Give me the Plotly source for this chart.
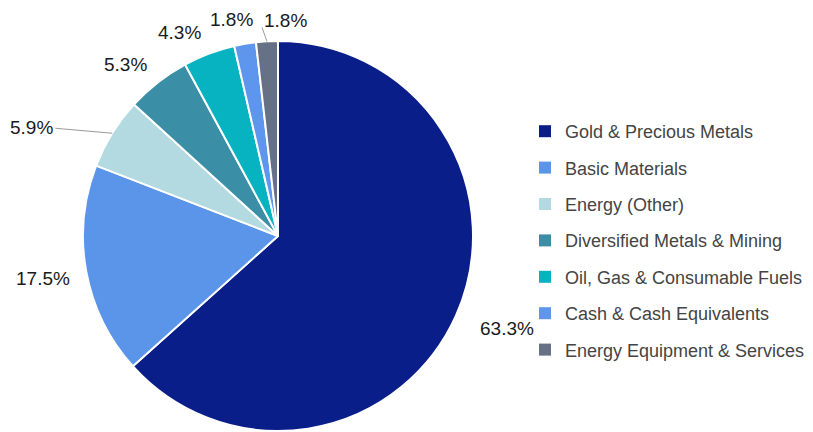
import math
import plotly.graph_objects as go

categories = ["Gold & Precious Metals", "Basic Materials", "Energy (Other)",
              "Diversified Metals & Mining", "Oil, Gas & Consumable Fuels",
              "Cash & Cash Equivalents", "Energy Equipment & Services"]
values = [63.3, 17.5, 5.9, 5.3, 4.3, 1.8, 1.8]
colors = ["#0A1E8A", "#5B95EA", "#B3D9E1", "#3A8FA6", "#07B3C1", "#5D96EC", "#667186"]

OFF = 8  # page body margin offset (screen px = figure px + OFF)
W, H = 813, 432
CX, CY, R = 278 - OFF, 236 - OFF, 195   # pie centre in figure px
ML, MR, MT = 0, 0, CY - R
MB = H - MT - 2 * R
PW, PH = W - ML - MR, H - MT - MB

# label offsets (px) from slice edge point to label centre; leader line offsets
label_offsets = [(51, 13), (-43, 7), (-81, -6), (-32, -18), (-30, -21), (-14, -24), (19, -21)]
leader_offsets = [None, None, (-57, -5), None, None, None, (-5, -14)]


def px2paper(px, py):
    return (px - ML) / PW, (H - MB - py) / PH


fig = go.Figure()
fig.add_trace(go.Pie(
    labels=categories, values=values, sort=False, direction="clockwise", rotation=0,
    marker=dict(colors=colors, line=dict(color="white", width=2)),
    textinfo="none", hoverinfo="label+percent", showlegend=False,
    domain=dict(x=[(CX - R) / W, (CX + R) / W], y=[0, 1]),
))

for cat, col in zip(categories, colors):
    fig.add_trace(go.Scatter(x=[None], y=[None], mode="markers", name=cat,
                             legendgroup=cat,
                             marker=dict(symbol="square", size=7, color=col)))

total = sum(values)
cum = 0.0
annotations, shapes = [], []
for i, v in enumerate(values):
    mid = (cum + v / 2) / total * 2 * math.pi
    cum += v
    tx, ty = CX + R * math.sin(mid), CY - R * math.cos(mid)
    dx, dy = label_offsets[i]
    lx, ly = px2paper(tx + dx, ty + dy)
    annotations.append(dict(x=lx, y=ly, xref="paper", yref="paper", showarrow=False,
                            text=f"{v:.1f}%", font=dict(size=19, color="#1a1a1a"),
                            xanchor="center", yanchor="middle"))
    if leader_offsets[i] is not None:
        ex, ey = leader_offsets[i]
        x0, y0 = px2paper(tx, ty)
        x1, y1 = px2paper(tx + ex, ty + ey)
        shapes.append(dict(type="line", xref="paper", yref="paper", x0=x0, y0=y0, x1=x1, y1=y1,
                           line=dict(color="#9a9a9a", width=1)))

fig.update_layout(
    width=W, height=H, margin=dict(l=ML, r=MR, t=MT, b=MB),
    paper_bgcolor="white", plot_bgcolor="white",
    font=dict(family="Liberation Sans, Arial, sans-serif", size=18, color="#444444"),
    annotations=annotations, shapes=shapes,
    legend=dict(x=(525 - OFF) / W, xanchor="left", y=px2paper(0, 113 - OFF)[1], yanchor="top",
                tracegroupgap=10, font=dict(size=18, color="#444444"),
                itemsizing="constant", bgcolor="rgba(0,0,0,0)", borderwidth=0),
    xaxis=dict(visible=False), yaxis=dict(visible=False),
)

fig.write_html("out.html", config={"displayModeBar": False})
